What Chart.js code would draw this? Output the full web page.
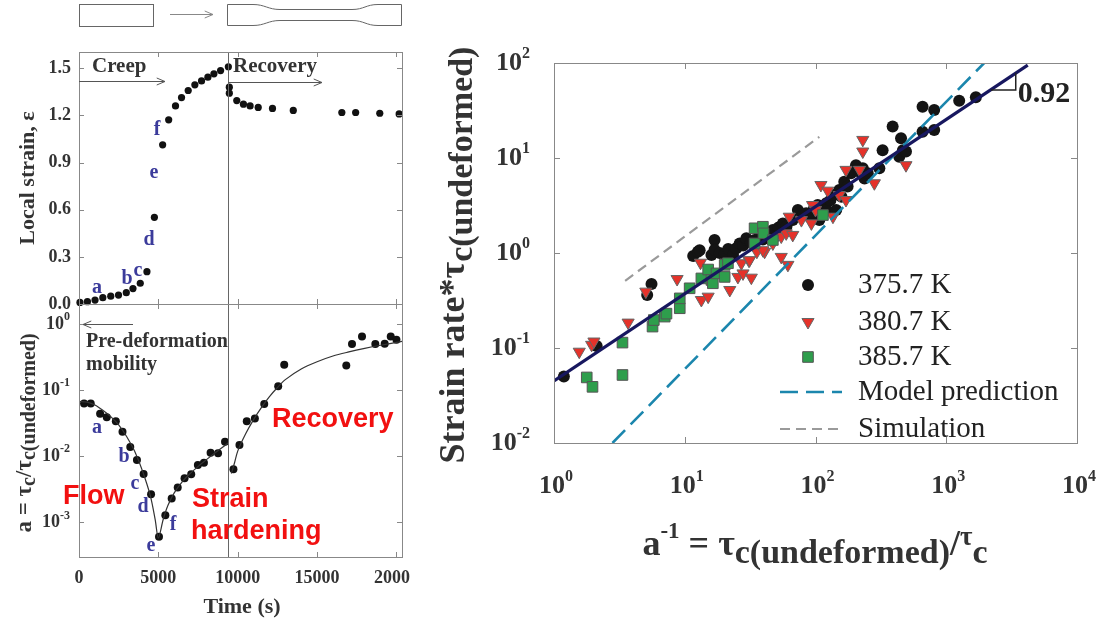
<!DOCTYPE html>
<html>
<head>
<meta charset="utf-8">
<script src="https://cdn.jsdelivr.net/npm/chart.js@4.4.0/dist/chart.umd.min.js"></script>
<style>
  html, body { margin: 0; padding: 0; background: #fff; }
  #wrap { position: relative; width: 1103px; height: 625px; overflow: hidden; background: #fff; }
  canvas { position: absolute; }
</style>
</head>
<body>
<div id="wrap">
  <canvas id="strain" width="410" height="310" style="left:0;top:0"></canvas>
  <canvas id="mob" width="410" height="325" style="left:0;top:300px"></canvas>
  <canvas id="rate" width="683" height="625" style="left:420px;top:0"></canvas>
</div>
<script>
// ---- top left: local strain vs time
const creepTime = [60, 530, 1010, 1500, 2000, 2490, 2980, 3400, 3860, 4280, 4750, 5270, 5650, 6080, 6460, 6880, 7300, 7720, 8120, 8500, 8920, 9410];
const creepStrain = [0.01, 0.015, 0.025, 0.04, 0.05, 0.057, 0.072, 0.098, 0.132, 0.206, 0.552, 1.013, 1.172, 1.261, 1.314, 1.359, 1.395, 1.42, 1.444, 1.465, 1.486, 1.51];
const recovTime = [9470, 9470, 9940, 10360, 10780, 11290, 12190, 13500, 16560, 17430, 18950, 20170];
const recovStrain = [1.38, 1.342, 1.295, 1.272, 1.261, 1.251, 1.245, 1.232, 1.219, 1.219, 1.214, 1.21];
const strainTicks = [0, 0.3, 0.6, 0.9, 1.2, 1.5];
const timeTicks = [0, 5000, 10000, 15000, 20000];
const switchTime = 9400;

// ---- bottom left: mobility ratio a vs time
const mobCreepTime = [320, 740, 1330, 1750, 2320, 2740, 3230, 3650, 4070, 4540, 5040, 5440, 5840, 6220, 6650, 7070, 7490, 7870, 8290, 8760, 9200];
const mobCreepA = [0.063, 0.063, 0.044, 0.039, 0.034, 0.0235, 0.0138, 0.0088, 0.0054, 0.00267, 0.00061, 0.00129, 0.0023, 0.00337, 0.00466, 0.00535, 0.0074, 0.008, 0.01135, 0.0111, 0.0166];
const mobRecovTime = [9730, 10110, 10570, 11080, 11670, 12550, 12930, 16840, 17200, 17830, 18670, 19260, 19640, 20000];
const mobRecovA = [0.00637, 0.0148, 0.034, 0.0374, 0.0622, 0.115, 0.244, 0.238, 0.50, 0.652, 0.50, 0.505, 0.652, 0.58];
const creepFitTime = [0, 500, 1000, 1500, 2000, 2500, 3000, 3500, 4000, 4500, 4800, 5000, 5300, 5600, 6000, 6500, 7000, 7500, 8000, 8500, 9000, 9400];
const creepFitA = [0.068, 0.066, 0.06, 0.05, 0.04, 0.03, 0.02, 0.012, 0.006, 0.0025, 0.0011, 0.00058, 0.0011, 0.0018, 0.0028, 0.0041, 0.0055, 0.007, 0.0088, 0.011, 0.0135, 0.016];
const recovFitTime = [9600, 9800, 10000, 10500, 11000, 11500, 12000, 12500, 13000, 14000, 15000, 16000, 17000, 18000, 19000, 20000, 20400];
const recovFitA = [0.0055, 0.008, 0.012, 0.022, 0.036, 0.055, 0.08, 0.11, 0.145, 0.21, 0.27, 0.33, 0.38, 0.43, 0.48, 0.53, 0.55];
const mobTicks = [1, 0.1, 0.01, 0.001];
const mobExp = ['0', '-1', '-2', '-3'];

// ---- right: normalised strain rate vs inverse mobility
const k375 = [[1.19,0.050],[2.12,0.105],[5.57,0.472],[5.16,0.361],[11.6,0.93],[12.6,1.03],[13,1.07],[16,0.95],[16.9,1.37],[16.9,1.08],[18.5,1.0],[20.2,0.98],[21.5,1.1],[23.4,0.95],[24.8,1.12],[26.3,1.26],[28,1.2],[29.6,1.37],[29.6,1.43],[32,1.3],[34.2,1.37],[37.4,1.61],[39.6,1.39],[43,1.5],[47.2,1.75],[52,1.85],[56.3,2.05],[60,1.9],[67,2.22],[73.3,2.84],[80,2.5],[84.9,2.62],[90,2.4],[97,2.9],[104,3.2],[107,2.22],[114,3.0],[121,3.34],[121,2.84],[130,3.6],[136,4.08],[144,2.84],[152,4.6],[158,3.9],[166,5.63],[176,5.0],[187,6.9],[204,8.4],[215,7.2],[230,7.8],[237,6.1],[251,6.9],[308,7.8],[326,12.1],[389,21.4],[437,10.3],[451,16.1],[466,12.1],[492,11.7],[659,34.7],[659,18.9],[809,32],[809,19.7],[1256,40.1],[1684,43.5]];
const k380 = [[1.56,0.0914],[1.94,0.108],[2.02,0.117],[3.69,0.185],[5.04,0.392],[8.74,0.532],[13.2,0.79],[13.4,0.32],[15.1,0.347],[22.1,0.408],[25.5,0.56],[27.9,0.61],[27.1,0.78],[31,0.83],[32.3,0.55],[31.3,0.84],[35.6,1.03],[40.8,1.03],[39.6,1.07],[47.2,1.26],[54.7,0.91],[54.7,1.49],[59.7,1.61],[61.5,0.75],[63,2.41],[67,1.55],[78,2.22],[93,2.05],[95,3.2],[100,2.84],[110,5.2],[124,4.53],[136,2.41],[152,4.08],[171,7.5],[171,3.61],[217,7.5],[230,15.5],[230,11.7],[282,5.42],[492,8.4]];
const k385 = [[1.78,0.049],[1.97,0.039],[3.34,0.052],[3.34,0.114],[5.67,0.168],[5.8,0.197],[7.03,0.214],[7.25,0.23],[9.16,0.262],[9.16,0.333],[10.9,0.425],[13.4,0.54],[15.1,0.67],[16,0.52],[16.4,0.48],[17.5,0.61],[20.2,0.56],[20.2,0.75],[21.4,0.78],[34.2,1.26],[34.2,1.82],[39.6,1.89],[40,1.61],[47.2,1.37],[114,2.51]];
const fitX = [1, 4200], fitY = [0.045, 95];
const modelX = [2.8, 1950], modelY = [0.01, 100];
const simX = [3.5, 107], simY = [0.51, 16.7];
const rateDecades = [1, 10, 100, 1000, 10000];
const rateYDecades = [0.01, 0.1, 1, 10, 100];
const legendLabels = ['375.7 K', '380.7 K', '385.7 K', 'Model prediction', 'Simulation'];

const SERIF = '"Liberation Serif", "Times New Roman", serif';
const SANS = '"Liberation Sans", Arial, sans-serif';
const BLUE = '#3b3b9b';
const RED = '#f21010';
const FRAME = '#888';

const pts = (xs, ys) => xs.map((v, i) => ({ x: v, y: ys[i] }));
const pairs = (arr) => arr.map(p => ({ x: p[0], y: p[1] }));

// draw text made of pieces: [text, size, dy, weight]
function rich(ctx, parts, x, y, align) {
  const fontOf = p => `${p[3] || 'bold'} ${p[1]}px ${SERIF}`;
  let w = 0;
  parts.forEach(p => { ctx.font = fontOf(p); w += ctx.measureText(p[0]).width; });
  let cx = align === 'center' ? x - w / 2 : align === 'right' ? x - w : x;
  ctx.textAlign = 'left';
  ctx.textBaseline = 'middle';
  parts.forEach(p => {
    ctx.font = fontOf(p);
    ctx.fillText(p[0], cx, y + (p[2] || 0));
    cx += ctx.measureText(p[0]).width;
  });
}
function richRot(ctx, parts, cx, cy) {
  ctx.save();
  ctx.translate(cx, cy);
  ctx.rotate(-Math.PI / 2);
  rich(ctx, parts, 0, 0, 'center');
  ctx.restore();
}
function label(ctx, text, x, y, font, color, align) {
  ctx.font = font;
  ctx.fillStyle = color;
  ctx.textAlign = align || 'left';
  ctx.textBaseline = 'middle';
  ctx.fillText(text, x, y);
}
function arrow(ctx, x1, y1, x2, y2) {
  const ang = Math.atan2(y2 - y1, x2 - x1);
  ctx.beginPath();
  ctx.moveTo(x1, y1); ctx.lineTo(x2, y2);
  ctx.moveTo(x2 - 9 * Math.cos(ang - 0.4), y2 - 9 * Math.sin(ang - 0.4));
  ctx.lineTo(x2, y2);
  ctx.lineTo(x2 - 9 * Math.cos(ang + 0.4), y2 - 9 * Math.sin(ang + 0.4));
  ctx.stroke();
}
// box with inward ticks on all four sides
function frame(chart, xt, yt, len) {
  const { ctx, chartArea: a, scales: { x, y } } = chart;
  ctx.save();
  ctx.strokeStyle = FRAME;
  ctx.lineWidth = 1;
  ctx.strokeRect(a.left + 0.5, a.top + 0.5, a.right - a.left, a.bottom - a.top);
  ctx.beginPath();
  xt.forEach(v => {
    const px = Math.round(x.getPixelForValue(v)) + 0.5;
    ctx.moveTo(px, a.top); ctx.lineTo(px, a.top + len);
    ctx.moveTo(px, a.bottom); ctx.lineTo(px, a.bottom - len);
  });
  yt.forEach(v => {
    const py = Math.round(y.getPixelForValue(v)) + 0.5;
    ctx.moveTo(a.left, py); ctx.lineTo(a.left + len, py);
    ctx.moveTo(a.right, py); ctx.lineTo(a.right - len, py);
  });
  ctx.stroke();
  ctx.restore();
}
function divider(chart) {
  const { ctx, chartArea: a, scales: { x } } = chart;
  const px = Math.round(x.getPixelForValue(switchTime)) + 0.5;
  ctx.save();
  ctx.strokeStyle = '#666';
  ctx.lineWidth = 1;
  ctx.beginPath(); ctx.moveTo(px, a.top); ctx.lineTo(px, a.bottom); ctx.stroke();
  ctx.restore();
}

const base = {
  responsive: false,
  animation: false,
  devicePixelRatio: 1,
  events: [],
  plugins: { legend: { display: false }, tooltip: { enabled: false } },
};

// ---------- top-left chart
new Chart(document.getElementById('strain'), {
  type: 'scatter',
  data: {
    datasets: [{
      data: pts(creepTime, creepStrain).concat(pts(recovTime, recovStrain)),
      pointRadius: 3.6, backgroundColor: '#111', borderWidth: 0, clip: 8,
    }],
  },
  options: {
    ...base,
    layout: { padding: { left: 79, top: 52, right: 8, bottom: 6 } },
    scales: {
      x: { type: 'linear', display: false, min: 0, max: 20350 },
      y: { type: 'linear', display: false, min: 0, max: 1.604 },
    },
  },
  plugins: [{
    id: 'strainDeco',
    afterDraw(chart) {
      const { ctx, scales: { y } } = chart;
      divider(chart);
      frame(chart, timeTicks.slice(1), strainTicks, 5);
      ctx.save();
      // specimen schematic
      ctx.strokeStyle = '#666'; ctx.lineWidth = 1;
      ctx.strokeRect(79.5, 4.5, 74, 22);
      ctx.strokeStyle = '#888';
      arrow(ctx, 170, 14.5, 213, 14.5);
      ctx.strokeStyle = '#666';
      ctx.beginPath();
      ctx.moveTo(227.5, 4.5); ctx.lineTo(253, 4.5);
      ctx.bezierCurveTo(265, 4.5, 268, 9.5, 280, 9.5);
      ctx.lineTo(352, 9.5);
      ctx.bezierCurveTo(364, 9.5, 366, 4.5, 378, 4.5);
      ctx.lineTo(401.5, 4.5); ctx.lineTo(401.5, 25.5); ctx.lineTo(378, 25.5);
      ctx.bezierCurveTo(366, 25.5, 364, 20.5, 352, 20.5);
      ctx.lineTo(280, 20.5);
      ctx.bezierCurveTo(268, 20.5, 265, 25.5, 253, 25.5);
      ctx.lineTo(227.5, 25.5); ctx.closePath();
      ctx.stroke();
      // tick labels
      strainTicks.forEach(v => label(ctx, v.toFixed(1), 71, y.getPixelForValue(v), `bold 18px ${SERIF}`, '#333', 'right'));
      ctx.fillStyle = '#333';
      richRot(ctx, [['Local strain, ε', 22]], 28, 178);
      // creep / recovery
      label(ctx, 'Creep', 92, 67, `bold 21px ${SERIF}`, '#333');
      label(ctx, 'Recovery', 233, 67, `bold 21px ${SERIF}`, '#333');
      ctx.strokeStyle = '#555';
      arrow(ctx, 79, 81.5, 165, 81.5);
      arrow(ctx, 228, 82.5, 322, 82.5);
      // stage letters
      const lf = `bold 20px ${SERIF}`;
      label(ctx, 'a', 97, 288, lf, BLUE, 'center');
      label(ctx, 'b', 127, 279, lf, BLUE, 'center');
      label(ctx, 'c', 138, 271, lf, BLUE, 'center');
      label(ctx, 'd', 149, 240, lf, BLUE, 'center');
      label(ctx, 'e', 154, 173, lf, BLUE, 'center');
      label(ctx, 'f', 157, 130, lf, BLUE, 'center');
      ctx.restore();
    },
  }],
});

// ---------- bottom-left chart (canvas top at 300)
new Chart(document.getElementById('mob'), {
  type: 'scatter',
  data: {
    datasets: [
      { data: pts(creepFitTime, creepFitA), showLine: true, pointRadius: 0, borderColor: '#333', borderWidth: 1.2, tension: 0.3 },
      { data: pts(recovFitTime, recovFitA), showLine: true, pointRadius: 0, borderColor: '#333', borderWidth: 1.2, tension: 0.3 },
      { data: pts(mobCreepTime, mobCreepA).concat(pts(mobRecovTime, mobRecovA)), pointRadius: 4, backgroundColor: '#111', borderWidth: 0, clip: 8 },
    ],
  },
  options: {
    ...base,
    layout: { padding: { left: 79, top: 4, right: 8, bottom: 68 } },
    scales: {
      x: { type: 'linear', display: false, min: 0, max: 20350 },
      y: { type: 'logarithmic', display: false, min: 0.000316, max: 2.02 },
    },
  },
  plugins: [{
    id: 'mobDeco',
    afterDraw(chart) {
      const { ctx, scales: { x, y } } = chart;
      divider(chart);
      frame(chart, timeTicks.slice(1), mobTicks, 5);
      ctx.save();
      ctx.fillStyle = '#333';
      mobTicks.forEach((v, i) => rich(ctx, [['10', 18], [mobExp[i], 12, -7]], 70, y.getPixelForValue(v), 'right'));
      timeTicks.forEach(v => label(ctx, String(v), x.getPixelForValue(v), 278, `bold 18px ${SERIF}`, '#333', 'center'));
      label(ctx, 'Time (s)', 242, 307, `bold 22px ${SERIF}`, '#333', 'center');
      ctx.fillStyle = '#333';
      richRot(ctx, [['a = τ', 23], ['c', 20, 5], ['/τ', 23], ['c(undeformed)', 20, 5]], 25, 133);
      // pre-deformation mobility
      ctx.strokeStyle = '#555'; ctx.lineWidth = 1;
      arrow(ctx, 133, 24.5, 83, 24.5);
      label(ctx, 'Pre-deformation', 86, 42, `bold 20px ${SERIF}`, '#333');
      label(ctx, 'mobility', 86, 65, `bold 20px ${SERIF}`, '#333');
      // stage letters
      const lf = `bold 20px ${SERIF}`;
      label(ctx, 'a', 97, 128, lf, BLUE, 'center');
      label(ctx, 'b', 124, 157, lf, BLUE, 'center');
      label(ctx, 'c', 135, 184, lf, BLUE, 'center');
      label(ctx, 'd', 143, 207, lf, BLUE, 'center');
      label(ctx, 'e', 151, 246, lf, BLUE, 'center');
      label(ctx, 'f', 173, 225, lf, BLUE, 'center');
      // regime labels
      const rf = `bold 27px ${SANS}`;
      label(ctx, 'Flow', 63, 197, rf, RED);
      label(ctx, 'Strain', 192, 200, rf, RED);
      label(ctx, 'hardening', 191, 232, rf, RED);
      label(ctx, 'Recovery', 272, 120, rf, RED);
      ctx.restore();
    },
  }],
});

// ---------- right chart (canvas left at 420)
new Chart(document.getElementById('rate'), {
  type: 'scatter',
  data: {
    datasets: [
      { data: pts(fitX, fitY), showLine: true, pointRadius: 0, borderColor: '#17175f', borderWidth: 3.2 },
      { data: pts(modelX, modelY), showLine: true, pointRadius: 0, borderColor: '#1b86ad', borderWidth: 2.6, borderDash: [18, 8] },
      { data: pts(simX, simY), showLine: true, pointRadius: 0, borderColor: '#9a9a9a', borderWidth: 2.2, borderDash: [10, 6] },
      { data: pairs(k385), pointStyle: 'rect', pointRadius: 7.5, backgroundColor: '#2e9e4c', borderColor: '#555', borderWidth: 1 },
      { data: pairs(k380), pointStyle: 'triangle', rotation: 180, pointRadius: 7, backgroundColor: '#e5322a', borderColor: '#666', borderWidth: 1 },
      { data: pairs(k375), pointStyle: 'circle', pointRadius: 6, backgroundColor: '#141414', borderColor: '#141414', borderWidth: 0 },
    ],
  },
  options: {
    ...base,
    layout: { padding: { left: 134, top: 63, right: 26, bottom: 182 } },
    scales: {
      x: { type: 'logarithmic', display: false, min: 1, max: 10000 },
      y: { type: 'logarithmic', display: false, min: 0.01, max: 100 },
    },
  },
  plugins: [{
    id: 'rateDeco',
    afterDraw(chart) {
      const { ctx, scales: { x, y } } = chart;
      frame(chart, rateDecades.slice(1, 4), rateYDecades.slice(1, 4), 6);
      ctx.save();
      ctx.fillStyle = '#333';
      rateYDecades.forEach(v => rich(ctx, [['10', 26], [String(Math.round(Math.log10(v))), 16, -9]], 110, y.getPixelForValue(v), 'right'));
      rateDecades.forEach(v => rich(ctx, [['10', 26], [String(Math.round(Math.log10(v))), 16, -9]], x.getPixelForValue(v) + 2, 486, 'center'));
      richRot(ctx, [['Strain rate*τ', 36], ['c(undeformed)', 34, 8]], 35, 255);
      rich(ctx, [['a', 36], ['-1', 23, -14], [' = τ', 36], ['c(undeformed)', 34, 8], ['/', 36], ['τ', 27, -8], ['c', 34, 8]], 395, 546, 'center');
      // slope triangle
      const tx1 = x.getPixelForValue(2200), tx2 = x.getPixelForValue(3400);
      const ty = y.getPixelForValue(52), ttop = y.getPixelForValue(79);
      ctx.strokeStyle = '#222'; ctx.lineWidth = 1.5;
      ctx.beginPath(); ctx.moveTo(tx1, ty); ctx.lineTo(tx2, ty); ctx.lineTo(tx2, ttop); ctx.stroke();
      label(ctx, '0.92', tx2 + 2, ty + 4, `bold 30px ${SERIF}`, '#222');
      // legend
      const lx = 388, tx = 438;
      const rows = [285, 322, 357, 392, 429];
      const ds = chart.data.datasets;
      [ds[5], ds[4], ds[3]].forEach((d, i) => {
        ctx.fillStyle = d.backgroundColor; ctx.strokeStyle = d.borderColor; ctx.lineWidth = d.borderWidth;
        Chart.helpers.drawPoint(ctx, { pointStyle: d.pointStyle, radius: d.pointRadius, rotation: d.rotation || 0, borderWidth: d.borderWidth }, lx, rows[i]);
      });
      [ds[1], ds[2]].forEach((d, i) => {
        ctx.strokeStyle = d.borderColor; ctx.lineWidth = d.borderWidth; ctx.setLineDash(d.borderDash);
        ctx.beginPath(); ctx.moveTo(lx - 28, rows[3 + i]); ctx.lineTo(lx + 34, rows[3 + i]); ctx.stroke();
      });
      ctx.setLineDash([]);
      legendLabels.forEach((t, i) => label(ctx, t, tx, rows[i], `29px ${SERIF}`, '#222'));
      ctx.restore();
    },
  }],
});
</script>
</body>
</html>
